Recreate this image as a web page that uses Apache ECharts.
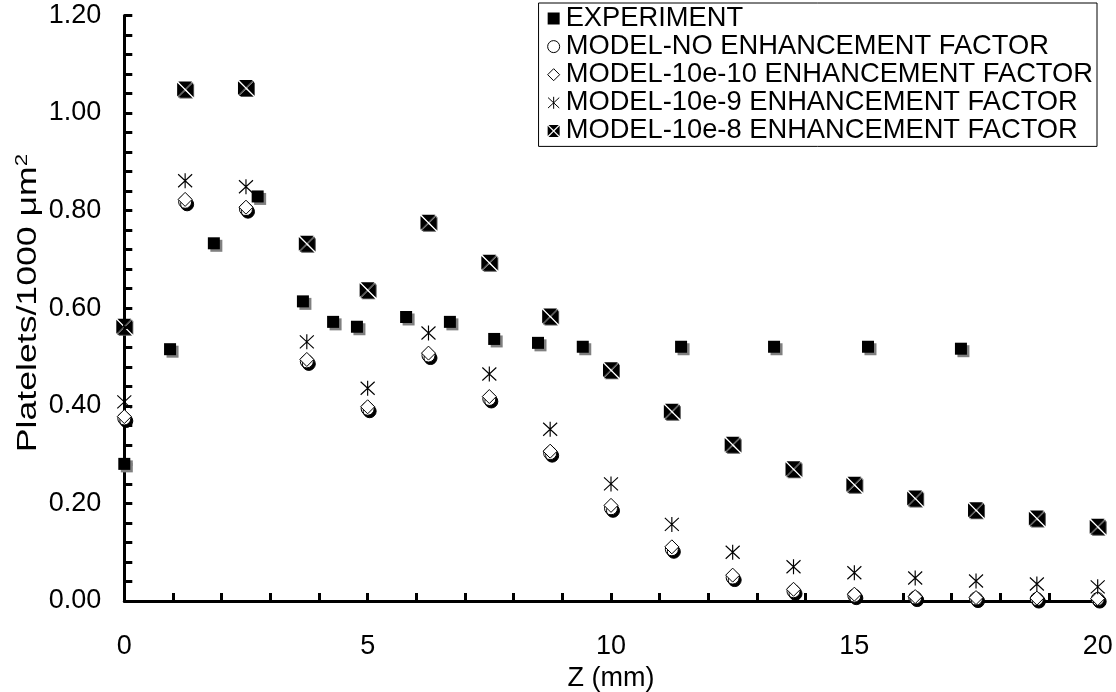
<!DOCTYPE html>
<html>
<head>
<meta charset="utf-8">
<script src="https://cdn.jsdelivr.net/npm/echarts@6/dist/echarts.min.js"></script>
<style>
  html, body { margin: 0; padding: 0; background: #fff; }
  #chart { width: 1116px; height: 692px; }
</style>
</head>
<body>
<div id="chart"></div>
<script>
// Platelet deposition along the axial position Z
const seriesNames = [
  'EXPERIMENT',
  'MODEL-NO ENHANCEMENT FACTOR',
  'MODEL-10e-10 ENHANCEMENT FACTOR',
  'MODEL-10e-9 ENHANCEMENT FACTOR',
  'MODEL-10e-8 ENHANCEMENT FACTOR'
];

// measured positions (mm) and densities
const zExperiment = [0, 0.94, 1.84, 2.74, 3.67, 4.29, 4.78, 5.79, 6.69, 7.6, 8.5, 9.42, 11.44, 13.35, 15.28, 17.19];
const experiment  = [0.281, 0.516, 0.733, 0.829, 0.614, 0.572, 0.562, 0.582, 0.572, 0.537, 0.529, 0.521, 0.521, 0.521, 0.521, 0.517];

// model grid positions (mm)
const zModel = [0, 1.25, 2.5, 3.75, 5, 6.25, 7.5, 8.75, 10, 11.25, 12.5, 13.75, 15, 16.25, 17.5, 18.75, 20];
const modelNoEnh  = [0.374, 0.818, 0.803, 0.491, 0.394, 0.503, 0.414, 0.303, 0.190, 0.106, 0.048, 0.020, 0.011, 0.007, 0.005, 0.004, 0.004];
const model10e10  = [0.378, 0.823, 0.807, 0.495, 0.398, 0.508, 0.419, 0.307, 0.196, 0.111, 0.053, 0.024, 0.014, 0.009, 0.007, 0.006, 0.005];
const model10e9   = [0.408, 0.861, 0.849, 0.531, 0.436, 0.549, 0.465, 0.352, 0.240, 0.157, 0.100, 0.070, 0.058, 0.047, 0.041, 0.035, 0.029];
const model10e8   = [0.562, 1.048, 1.051, 0.732, 0.637, 0.775, 0.693, 0.583, 0.473, 0.388, 0.320, 0.270, 0.238, 0.210, 0.186, 0.169, 0.152];

const xTicks = { min: 0, max: 20, interval: 5 };
const yTicks = { min: 0, max: 1.2, interval: 0.2 };
const xTitle = 'Z (mm)';
const yTitle = '{n|Platelets/1000 μm}{s|2}';

const FONT = 'Liberation Sans, Arial, sans-serif';
const FS = 27;

// symbols
const ASTERISK = 'path://M0,1 L14,14 M14,1 L0,14 M7,0 L7,15';
const CROSSBOX = 'path://M1.1,0 L14.9,0 L8,6.9 Z M16,1.1 L16,14.9 L9.1,8 Z M14.9,16 L1.1,16 L8,9.1 Z M0,14.9 L0,1.1 L6.9,8 Z';

function pairs(xs, ys) { return xs.map((x, i) => [x, ys[i]]); }

const chart = echarts.init(document.getElementById('chart'), null, { renderer: 'canvas' });

const option = {
  backgroundColor: '#fff',
  animation: false,
  textStyle: { fontFamily: FONT },
  grid: { left: 124.3, right: 18.3, top: 15.4, bottom: 91, outerBoundsMode: 'none' },
  // rotated, slightly stretched vertical axis title
  graphic: [{
    type: 'text',
    x: 29,
    y: 303,
    rotation: Math.PI / 2,
    scaleX: 1.32,
    scaleY: 1,
    style: {
      text: yTitle,
      align: 'center',
      verticalAlign: 'middle',
      fill: '#000',
      fontFamily: FONT,
      fontSize: FS,
      rich: {
        n: { fontFamily: FONT, fontSize: FS, fill: '#000' },
        s: { fontFamily: FONT, fontSize: 17, fill: '#000', verticalAlign: 'top', padding: [0, 0, 13, 0] }
      }
    }
  }],
  legend: {
    orient: 'vertical',
    right: 19,
    top: 3,
    padding: [2, 4, 2, 7],
    itemGap: 1.1,
    itemWidth: 12,
    itemHeight: 12,
    borderColor: '#000',
    borderWidth: 1,
    borderRadius: 0,
    backgroundColor: '#fff',
    textStyle: { fontFamily: FONT, fontSize: 27.3, color: '#000', padding: [0, 0, 0, 1] },
    data: [
      { name: seriesNames[0], icon: 'rect', itemStyle: { color: '#000', shadowColor: 'transparent' } },
      { name: seriesNames[1], icon: 'circle', itemStyle: { color: '#fff', borderColor: '#000', borderWidth: 1, shadowColor: 'transparent' } },
      { name: seriesNames[2], icon: 'diamond', itemStyle: { color: '#fff', borderColor: '#000', borderWidth: 1, shadowColor: 'transparent' } },
      { name: seriesNames[3], icon: ASTERISK, itemStyle: { color: 'none', borderColor: '#000', borderWidth: 1, shadowColor: 'transparent' } },
      { name: seriesNames[4], icon: CROSSBOX, itemStyle: { color: '#000', shadowColor: 'transparent' } }
    ]
  },
  xAxis: {
    type: 'value',
    min: xTicks.min, max: xTicks.max, interval: xTicks.interval,
    name: xTitle,
    nameLocation: 'middle',
    nameGap: 63,
    nameTextStyle: { fontFamily: FONT, fontSize: FS, color: '#000' },
    axisLine: { show: true, lineStyle: { color: '#000', width: 3 } },
    axisTick: { show: true, inside: true, length: 8, lineStyle: { color: '#000', width: 3 } },
    minorTick: { show: true, splitNumber: 5, length: 8, lineStyle: { color: '#000', width: 3 } },
    axisLabel: { fontFamily: FONT, fontSize: FS, color: '#000', margin: 32 },
    splitLine: { show: false }
  },
  yAxis: {
    type: 'value',
    min: yTicks.min, max: yTicks.max, interval: yTicks.interval,
    axisLine: { show: true, lineStyle: { color: '#000', width: 3 } },
    axisTick: { show: true, inside: true, length: 8, lineStyle: { color: '#000', width: 3 } },
    minorTick: { show: true, splitNumber: 5, length: 8, lineStyle: { color: '#000', width: 3 } },
    axisLabel: {
      fontFamily: FONT, fontSize: FS, color: '#000', margin: 23,
      formatter: v => v.toFixed(2)
    },
    splitLine: { show: false }
  },
  series: [
    {
      name: seriesNames[0], type: 'scatter', clip: false, z: 6,
      data: pairs(zExperiment, experiment),
      symbol: 'rect', symbolSize: 12,
      itemStyle: { color: '#000', opacity: 1, shadowColor: '#808080', shadowBlur: 0, shadowOffsetX: 2.5, shadowOffsetY: 2.5 }
    },
    {
      name: seriesNames[1], type: 'scatter', clip: false, z: 2,
      data: pairs(zModel, modelNoEnh),
      symbol: 'circle', symbolSize: 13,
      itemStyle: { color: '#fff', opacity: 1, borderColor: '#000', borderWidth: 1, shadowColor: '#000', shadowBlur: 0, shadowOffsetX: 2, shadowOffsetY: 2.5 }
    },
    {
      name: seriesNames[2], type: 'scatter', clip: false, z: 3,
      data: pairs(zModel, model10e10),
      symbol: 'diamond', symbolSize: 14,
      itemStyle: { color: '#fff', opacity: 1, borderColor: '#000', borderWidth: 1 }
    },
    {
      name: seriesNames[3], type: 'scatter', clip: false, z: 4,
      data: pairs(zModel, model10e9),
      symbol: ASTERISK, symbolSize: [14, 15],
      itemStyle: { color: 'none', opacity: 1, borderColor: '#000', borderWidth: 1.2 }
    },
    {
      name: seriesNames[4], type: 'scatter', clip: false, z: 5,
      data: pairs(zModel, model10e8),
      symbol: CROSSBOX, symbolSize: 16,
      itemStyle: { color: '#000', opacity: 1, shadowColor: '#555', shadowBlur: 0, shadowOffsetX: 1, shadowOffsetY: 1 }
    }
  ]
};

chart.setOption(option);
</script>
</body>
</html>
